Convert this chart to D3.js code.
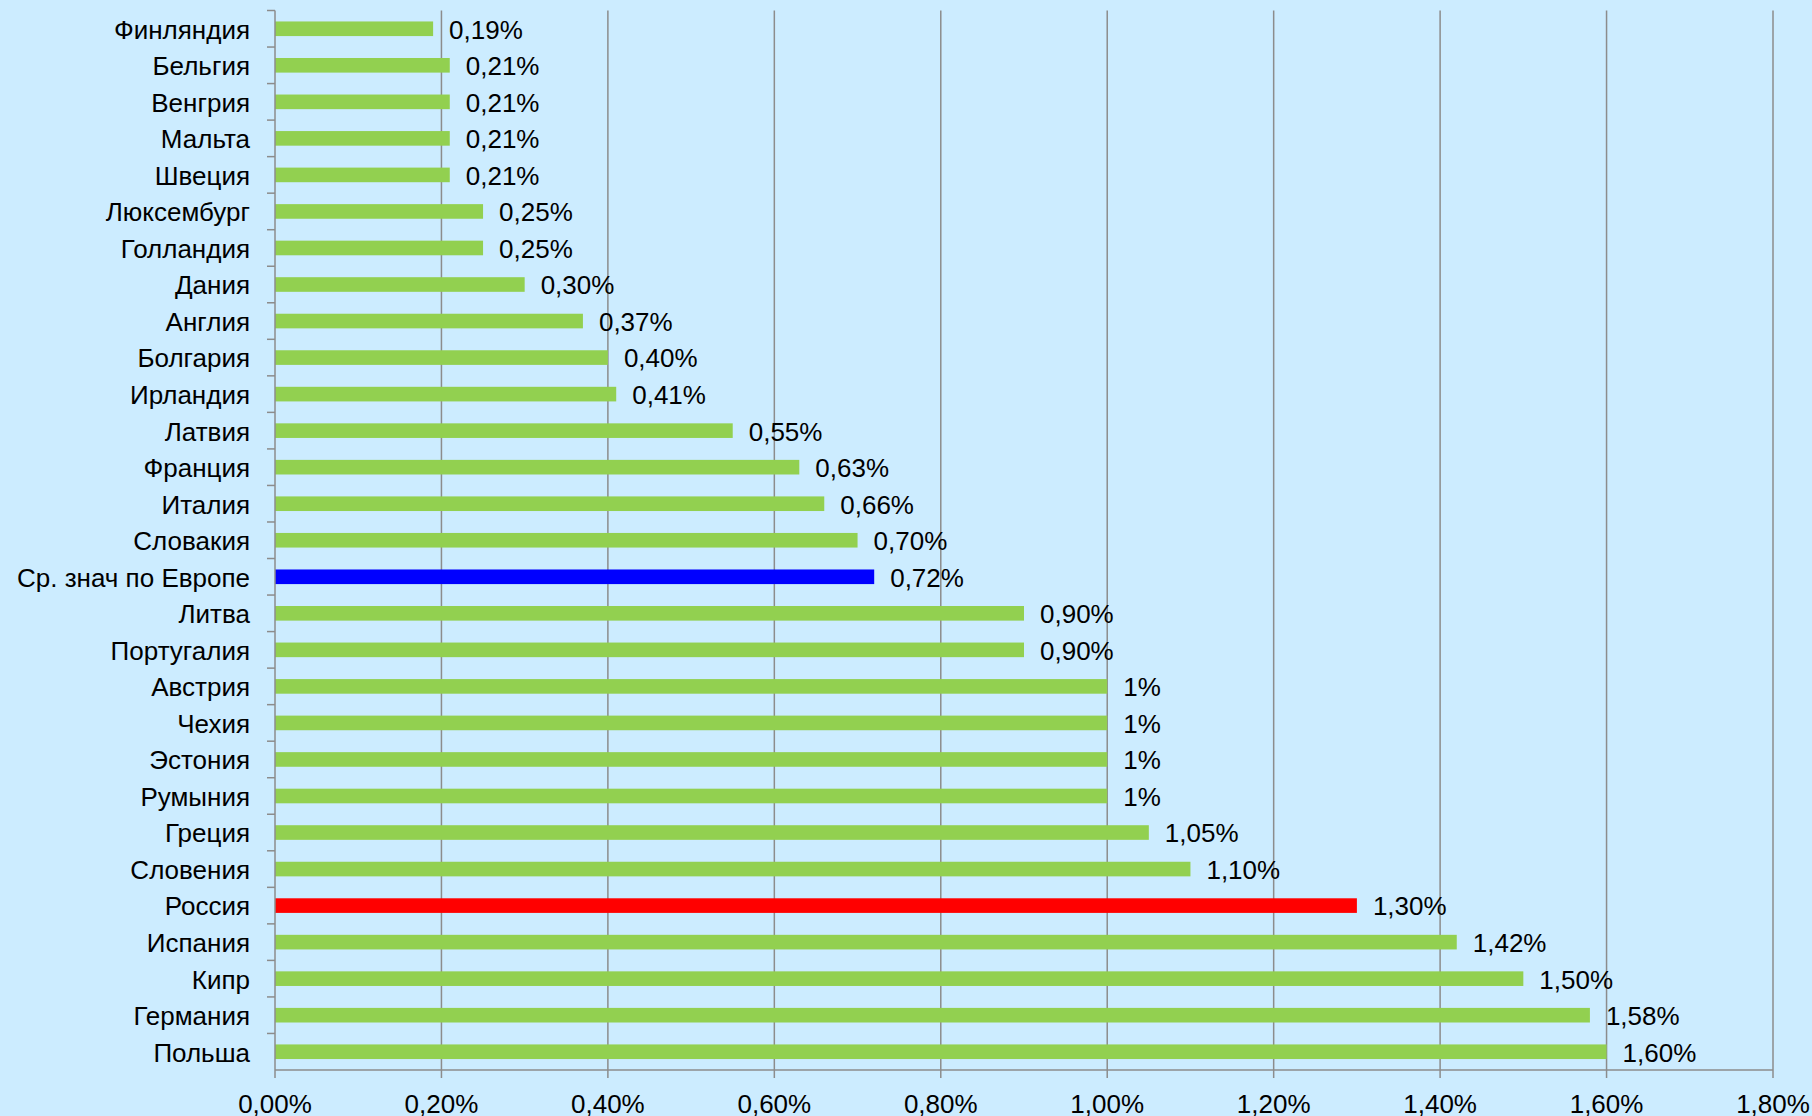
<!DOCTYPE html>
<html>
<head>
<meta charset="utf-8">
<script src="https://cdn.jsdelivr.net/npm/d3@7"></script>
<style>
  html, body { margin: 0; padding: 0; background: #CCECFF; }
  svg { display: block; }
  text { font-family: "Liberation Sans", Arial, sans-serif; fill: #000; }
</style>
</head>
<body>
<div id="chart"></div>
<script>
// data, top to bottom as in the picture
var countries = ["Финляндия", "Бельгия", "Венгрия", "Мальта", "Швеция", "Люксембург", "Голландия",
  "Дания", "Англия", "Болгария", "Ирландия", "Латвия", "Франция", "Италия", "Словакия",
  "Ср. знач по Европе", "Литва", "Португалия", "Австрия", "Чехия", "Эстония", "Румыния",
  "Греция", "Словения", "Россия", "Испания", "Кипр", "Германия", "Польша"];
var values = [0.19, 0.21, 0.21, 0.21, 0.21, 0.25, 0.25, 0.30, 0.37, 0.40, 0.41, 0.55, 0.63, 0.66, 0.70,
  0.72, 0.90, 0.90, 1.00, 1.00, 1.00, 1.00, 1.05, 1.10, 1.30, 1.42, 1.50, 1.58, 1.60];
var valueLabels = ["0,19%", "0,21%", "0,21%", "0,21%", "0,21%", "0,25%", "0,25%", "0,30%", "0,37%",
  "0,40%", "0,41%", "0,55%", "0,63%", "0,66%", "0,70%", "0,72%", "0,90%", "0,90%", "1%", "1%", "1%",
  "1%", "1,05%", "1,10%", "1,30%", "1,42%", "1,50%", "1,58%", "1,60%"];
var xTicks = [0, 0.2, 0.4, 0.6, 0.8, 1.0, 1.2, 1.4, 1.6, 1.8];
var xTickLabels = ["0,00%", "0,20%", "0,40%", "0,60%", "0,80%", "1,00%", "1,20%", "1,40%", "1,60%", "1,80%"];
var highlight = { "Ср. знач по Европе": "#0000FF", "Россия": "#FF0000" };

var W = 1812, H = 1116;
var margin = { top: 10.5, right: 39, bottom: 46, left: 275 };
var width = W - margin.left - margin.right;
var height = H - margin.top - margin.bottom;
var fontSize = 26;

var svg = d3.select("#chart").append("svg")
  .attr("width", W)
  .attr("height", H);

svg.append("rect").attr("width", W).attr("height", H).attr("fill", "#CCECFF");

var g = svg.append("g")
  .attr("transform", "translate(" + margin.left + "," + margin.top + ")");

var x = d3.scaleLinear().domain([0, 1.8]).range([0, width]);
var y = d3.scaleBand().domain(countries).range([0, height]).paddingInner(0.6).paddingOuter(0.3);
var yStep = d3.scaleBand().domain(countries).range([0, height]);

// vertical grid lines
g.append("g").selectAll("line")
  .data(xTicks.slice(1))
  .enter().append("line")
  .attr("x1", function (d) { return x(d); })
  .attr("x2", function (d) { return x(d); })
  .attr("y1", 0)
  .attr("y2", height)
  .attr("stroke", "#8C8C8C")
  .attr("stroke-width", 1.5);

// bars
g.append("g").selectAll("rect")
  .data(countries)
  .enter().append("rect")
  .attr("x", 0)
  .attr("y", function (d) { return y(d); })
  .attr("width", function (d, i) { return x(values[i]); })
  .attr("height", y.bandwidth())
  .attr("fill", function (d) { return highlight[d] || "#92D050"; });

// value labels
g.append("g").selectAll("text")
  .data(countries)
  .enter().append("text")
  .attr("x", function (d, i) { return x(values[i]) + 16; })
  .attr("y", function (d) { return y(d) + y.bandwidth() / 2; })
  .attr("dy", "0.38em")
  .attr("font-size", fontSize)
  .text(function (d, i) { return valueLabels[i]; });

// y axis: line, ticks between categories, labels
var yAxis = g.append("g");
yAxis.append("line")
  .attr("x1", 0).attr("x2", 0).attr("y1", 0).attr("y2", height)
  .attr("stroke", "#8C8C8C").attr("stroke-width", 1.5);
yAxis.selectAll("line.tick")
  .data(countries)
  .enter().append("line")
  .attr("class", "tick")
  .attr("x1", -8).attr("x2", 0)
  .attr("y1", function (d) { return yStep(d); })
  .attr("y2", function (d) { return yStep(d); })
  .attr("stroke", "#8C8C8C").attr("stroke-width", 1.5);
yAxis.selectAll("text")
  .data(countries)
  .enter().append("text")
  .attr("x", -25)
  .attr("y", function (d) { return y(d) + y.bandwidth() / 2; })
  .attr("dy", "0.38em")
  .attr("text-anchor", "end")
  .attr("font-size", fontSize)
  .text(function (d) { return d; });

// x axis
var xAxis = g.append("g").attr("transform", "translate(0," + height + ")");
xAxis.append("line")
  .attr("x1", 0).attr("x2", width)
  .attr("stroke", "#8C8C8C").attr("stroke-width", 1.5);
xAxis.selectAll("line.tick")
  .data(xTicks)
  .enter().append("line")
  .attr("class", "tick")
  .attr("x1", function (d) { return x(d); })
  .attr("x2", function (d) { return x(d); })
  .attr("y1", 0).attr("y2", 8)
  .attr("stroke", "#8C8C8C").attr("stroke-width", 1.5);
xAxis.selectAll("text")
  .data(xTicks)
  .enter().append("text")
  .attr("x", function (d) { return x(d); })
  .attr("y", 34)
  .attr("dy", "0.36em")
  .attr("text-anchor", "middle")
  .attr("font-size", fontSize)
  .text(function (d, i) { return xTickLabels[i]; });
</script>
</body>
</html>
